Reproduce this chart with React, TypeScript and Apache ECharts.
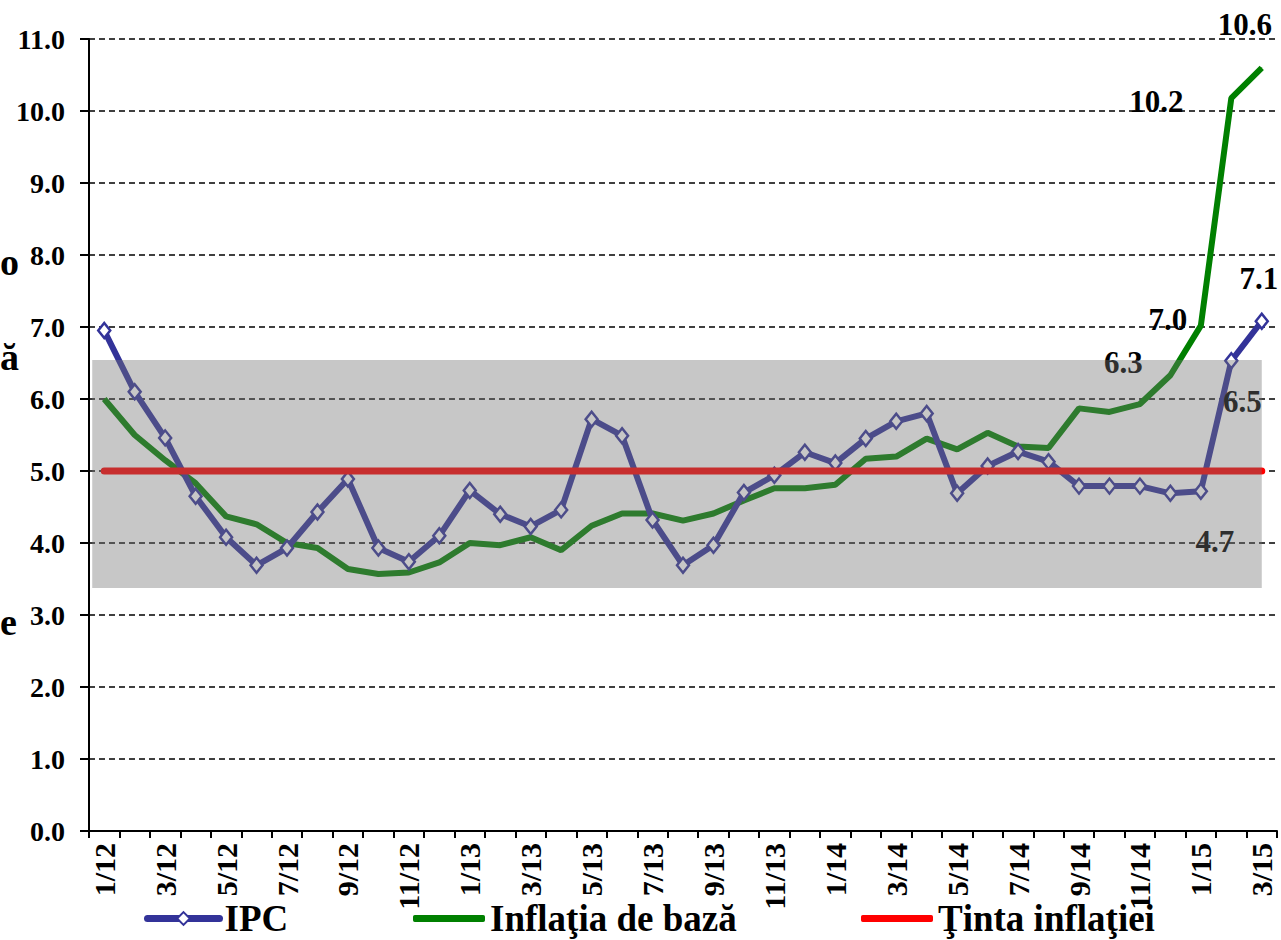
import React, { useEffect, useRef } from "react";
import * as echarts from "echarts";

const months = [
  "1/12", "2/12", "3/12", "4/12", "5/12", "6/12", "7/12", "8/12", "9/12", "10/12", "11/12", "12/12",
  "1/13", "2/13", "3/13", "4/13", "5/13", "6/13", "7/13", "8/13", "9/13", "10/13", "11/13", "12/13",
  "1/14", "2/14", "3/14", "4/14", "5/14", "6/14", "7/14", "8/14", "9/14", "10/14", "11/14", "12/14",
  "1/15", "2/15", "3/15",
];

const ipc = [
  6.95, 6.1, 5.46, 4.65, 4.08, 3.69, 3.93, 4.43, 4.89, 3.93, 3.74, 4.1,
  4.73, 4.4, 4.23, 4.46, 5.72, 5.49, 4.32, 3.69, 3.97, 4.7, 4.94, 5.26,
  5.11, 5.45, 5.69, 5.8, 4.69, 5.07, 5.27, 5.13, 4.79, 4.79, 4.79, 4.69,
  4.72, 6.53, 7.08,
];

const core = [
  6.0, 5.5, 5.15, 4.83, 4.37, 4.26, 4.0, 3.93, 3.64, 3.57, 3.59, 3.73,
  4.0, 3.97, 4.08, 3.9, 4.24, 4.41, 4.41, 4.31, 4.41, 4.59, 4.76, 4.76,
  4.81, 5.17, 5.2, 5.45, 5.3, 5.53, 5.34, 5.32, 5.87, 5.82, 5.93, 6.33,
  7.02, 10.18, 10.6,
];

const target = months.map(() => 5.0);

const bandTop = 6.54;
const bandBottom = 3.375;

const yTicks = [0, 11, 1]; // min, max, interval

const seriesNames = ["IPC", "Inflaţia de bază", "Ţinta inflaţiei"];

const FONT = "'Liberation Serif', 'Times New Roman', serif";

// label offsets (styling only), keyed by data index
const ipcLabels: Record<number, number[]> = { 36: [14, 50], 37: [11, 41], 38: [-3, -43] };
const coreLabels: Record<number, number[]> = { 35: [-47, -13], 36: [-33, -6], 37: [-75, 3], 38: [-17, -43] };

function withLabels(values: number[], spec: Record<number, number[]>) {
  return values.map((v, i) =>
    spec[i]
      ? {
          value: v,
          label: {
            show: true,
            position: "inside",
            offset: spec[i],
            formatter: (p: any) => Number(p.value).toFixed(1),
            fontFamily: FONT,
            fontWeight: "bold",
            fontSize: 31,
            color: "#000",
          },
        }
      : v
  );
}

export default function App() {
  const ref = useRef<HTMLDivElement>(null);
  useEffect(() => {
    const chart = echarts.init(ref.current!, null, { renderer: "svg" });
    const legendText = { fontFamily: FONT, fontWeight: "bold", fontSize: 37, color: "#000", padding: [0, 0, 0, 0] };
    chart.setOption({
      animation: false,
      backgroundColor: "#fff",
      grid: { left: 89, right: 4, top: 39, bottom: 109, containLabel: false },
      legend: [
        {
          data: [seriesNames[0]], left: 139, top: 895, itemWidth: 72, itemHeight: 16, itemGap: 0,
          textStyle: legendText, lineStyle: { width: 7, cap: "round" },
        },
        {
          data: [{ name: seriesNames[1], icon: "roundRect" }], left: 408, top: 895, itemWidth: 72, itemHeight: 7, itemGap: 0,
          textStyle: legendText,
        },
        {
          data: [{ name: seriesNames[2], icon: "roundRect" }], left: 856, top: 895, itemWidth: 72, itemHeight: 7, itemGap: 0,
          textStyle: legendText,
        },
      ],
      xAxis: {
        type: "category",
        data: months,
        boundaryGap: true,
        axisLine: { lineStyle: { color: "#000", width: 2 } },
        axisTick: { show: true, interval: 0, length: 7, lineStyle: { color: "#000", width: 2 } },
        axisLabel: {
          interval: 1,
          rotate: 90,
          margin: 12,
          fontFamily: FONT,
          fontWeight: "bold",
          fontSize: 30,
          color: "#000",
        },
        splitLine: { show: false },
      },
      yAxis: {
        type: "value",
        min: yTicks[0],
        max: yTicks[1],
        interval: yTicks[2],
        axisLine: { show: true, lineStyle: { color: "#000", width: 2 } },
        axisTick: { show: true, length: 9, lineStyle: { color: "#000", width: 2 } },
        axisLabel: {
          margin: 24,
          formatter: (v: number) => v.toFixed(1),
          fontFamily: FONT,
          fontWeight: "bold",
          fontSize: 28,
          color: "#000",
        },
        splitLine: { show: true, lineStyle: { color: "#000", width: 1.5, type: [6, 4] } },
      },
      series: [
        {
          name: seriesNames[1],
          type: "line",
          data: withLabels(core, coreLabels),
          symbol: "circle",
          symbolSize: 1,
          showSymbol: true,
          lineStyle: { color: "#008000", width: 6 },
          itemStyle: { color: "#008000" },
          z: 2,
        },
        {
          name: seriesNames[0],
          type: "line",
          data: withLabels(ipc, ipcLabels),
          symbol: "diamond",
          symbolSize: [12, 15],
          showSymbol: true,
          lineStyle: { color: "#333399", width: 6 },
          itemStyle: { color: "#fff", borderColor: "#333399", borderWidth: 2.5 },
          z: 3,
        },
        {
          name: seriesNames[2],
          type: "line",
          data: target,
          symbol: "none",
          lineStyle: { color: "#ff0000", width: 7, cap: "round" },
          itemStyle: { color: "#ff0000" },
          z: 4,
        },
      ],
    });

    const xFirst = chart.convertToPixel({ xAxisIndex: 0 }, months[0]) as number;
    const xLast = chart.convertToPixel({ xAxisIndex: 0 }, months[months.length - 1]) as number;
    const yT = chart.convertToPixel({ yAxisIndex: 0 }, bandTop) as number;
    const yB = chart.convertToPixel({ yAxisIndex: 0 }, bandBottom) as number;
    const frag = { fontFamily: FONT, fontWeight: "bold", fontSize: 38, fill: "#000", verticalAlign: "middle", align: "left" };
    chart.setOption({
      graphic: [
        {
          type: "rect",
          z: 100,
          silent: true,
          shape: { x: xFirst - 12, y: yT, width: xLast - xFirst + 12, height: yB - yT },
          style: { fill: "rgba(116,116,116,0.4)" },
        },
        { type: "text", left: 0, top: 243, style: { ...frag, text: "o" } },
        { type: "text", left: 0, top: 338, style: { ...frag, text: "ă" } },
        { type: "text", left: 0, top: 603, style: { ...frag, text: "e" } },
      ],
    });

    return () => chart.dispose();
  }, []);
  return (
    <div
      ref={ref}
      style={{ position: "absolute", left: 0, top: 0, width: 1281, height: 940 }}
    />
  );
}
